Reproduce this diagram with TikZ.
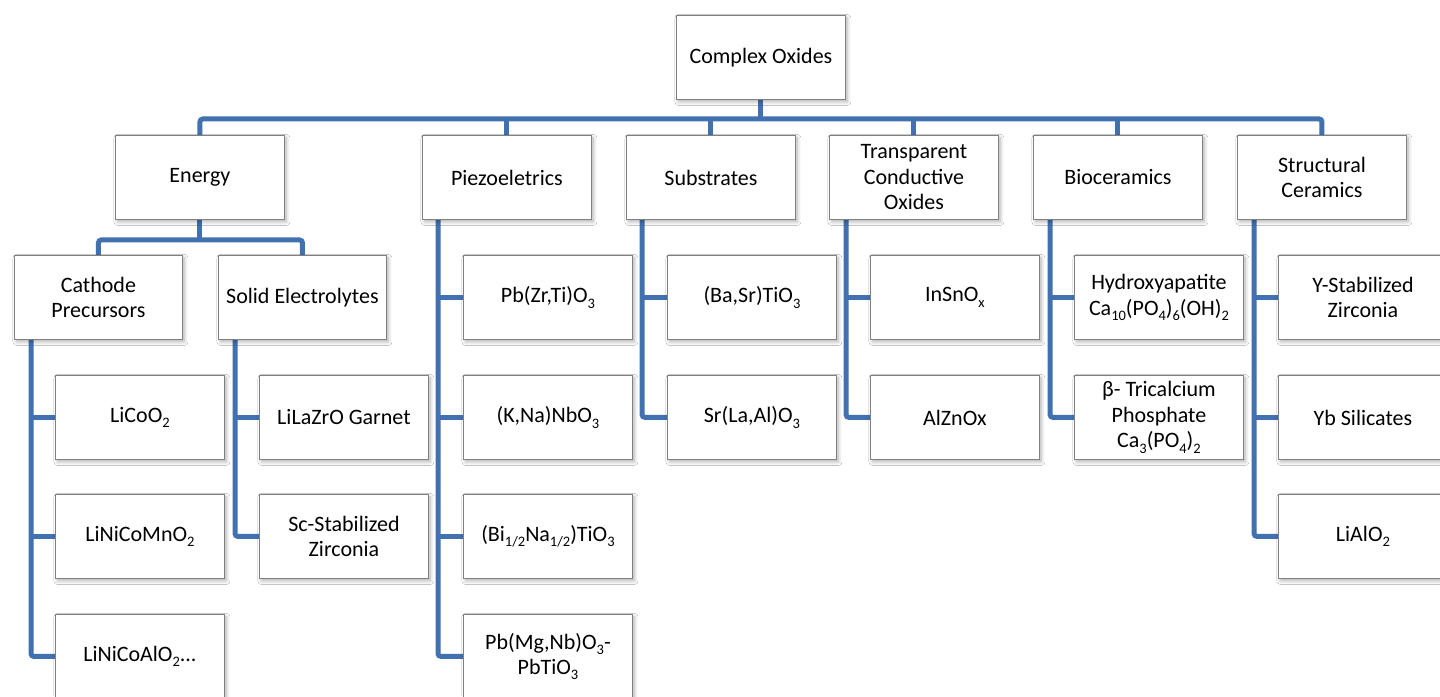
\documentclass[tikz,border=0pt]{standalone}
\usepackage{fontspec}
\setmainfont{Carlito}
\usetikzlibrary{shadows.blur,calc}
\definecolor{conn}{RGB}{66,113,175}
\definecolor{boxline}{RGB}{128,128,128}
\newcommand{\sbs}[1]{\raisebox{-0.24em}{\fontsize{14.5}{15}\selectfont #1}}
\pgfdeclarelayer{background}
\pgfsetlayers{background,main}
\begin{document}
\begin{tikzpicture}[x=1pt,y=-1pt,
  box/.style={draw=boxline, line width=0.9pt, fill=white, minimum width=169pt, minimum height=84pt,
    inner sep=2pt, align=center, anchor=north west, font=\fontsize{22}{25.5}\selectfont,
    blur shadow={shadow xshift=2pt, shadow yshift=-2.5pt, shadow blur steps=8, shadow blur radius=3.5pt, shadow opacity=30}},
  conline/.style={draw=conn, line width=5pt, rounded corners=3pt}]
\useasboundingbox (0,0) rectangle (1440,696);
% top
\node[box] (top) at (676,15) {Complex Oxides};
% level 1
\node[box] (energy) at (115,135) {Energy};
\node[box] (piezo) at (422,135) {Piezoeletrics};
\node[box] (subs) at (626,135) {Substrates};
\node[box] (tco) at (829,135) {Transparent\\Conductive\\Oxides};
\node[box] (bio) at (1033,135) {Bioceramics};
\node[box] (struct) at (1237,135) {Structural\\Ceramics};
% energy level
\node[box, minimum width=168pt] (cath) at (14,255) {Cathode\\Precursors};
\node[box, minimum width=168pt] (solid) at (218,255) {Solid Electrolytes};
% cathode children
\node[box] (c1) at (55,375) {LiCoO\sbs{2}};
\node[box] (c2) at (55,494) {LiNiCoMnO\sbs{2}};
\node[box] (c3) at (55,614) {LiNiCoAlO\sbs{2}...};
% solid children
\node[box] (s1) at (259,375) {LiLaZrO Garnet};
\node[box] (s2) at (259,494) {Sc-Stabilized\\Zirconia};
% piezo children
\node[box] (p1) at (463,255) {Pb(Zr,Ti)O\sbs{3}};
\node[box] (p2) at (463,375) {(K,Na)NbO\sbs{3}};
\node[box] (p3) at (463,494) {(Bi\sbs{1/2}Na\sbs{1/2})TiO\sbs{3}};
\node[box] (p4) at (463,614) {Pb(Mg,Nb)O\sbs{3}-\\PbTiO\sbs{3}};
% substrates children
\node[box] (b1) at (667,255) {(Ba,Sr)TiO\sbs{3}};
\node[box] (b2) at (667,375) {Sr(La,Al)O\sbs{3}};
% tco children
\node[box] (t1) at (870,255) {InSnO\sbs{x}};
\node[box] (t2) at (870,375) {AlZnOx};
% bio children
\node[box] (h1) at (1074,255) {Hydroxyapatite\\Ca\sbs{10}(PO\sbs{4})\sbs{6}(OH)\sbs{2}};
\node[box] (h2) at (1074,375) {β- Tricalcium\\Phosphate\\Ca\sbs{3}(PO\sbs{4})\sbs{2}};
% structural children
\node[box] (z1) at (1278,255) {Y-Stabilized\\Zirconia};
\node[box] (z2) at (1278,375) {Yb Silicates};
\node[box] (z3) at (1278,494) {LiAlO\sbs{2}};

\begin{pgfonlayer}{background}
\fill[white] (0,0) rectangle (1440,696);
% top bus
\coordinate (bus) at ($(top.south)+(0,19)$);
\draw[conline] (energy.north) |- (bus) -| (struct.north);
\draw[conline] (top.south) -- (bus);
\foreach \n in {piezo,subs,tco,bio} \draw[conline] (\n.north) -- (\n.north |- bus);
% energy bus
\coordinate (ebus) at ($(energy.south)+(0,20)$);
\draw[conline] (cath.north) |- (ebus) -| (solid.north);
\draw[conline] (energy.south) -- (ebus);
% trunks
\draw[conline] ($(cath.south west)+(17,-5)$) |- (c3.west);
\foreach \n in {c1,c2} \draw[conline] (\n.west) -- ++(-24,0);
\draw[conline] ($(solid.south west)+(17,-5)$) |- (s2.west);
\draw[conline] (s1.west) -- ++(-24,0);
\draw[conline] ($(piezo.south west)+(16,-5)$) |- (p4.west);
\foreach \n in {p1,p2,p3} \draw[conline] (\n.west) -- ++(-25,0);
\draw[conline] ($(subs.south west)+(16,-5)$) |- (b2.west);
\draw[conline] (b1.west) -- ++(-25,0);
\draw[conline] ($(tco.south west)+(17,-5)$) |- (t2.west);
\draw[conline] (t1.west) -- ++(-24,0);
\draw[conline] ($(bio.south west)+(17,-5)$) |- (h2.west);
\draw[conline] (h1.west) -- ++(-24,0);
\draw[conline] ($(struct.south west)+(17,-5)$) |- (z3.west);
\foreach \n in {z1,z2} \draw[conline] (\n.west) -- ++(-24,0);
\end{pgfonlayer}
\end{tikzpicture}
\end{document}
